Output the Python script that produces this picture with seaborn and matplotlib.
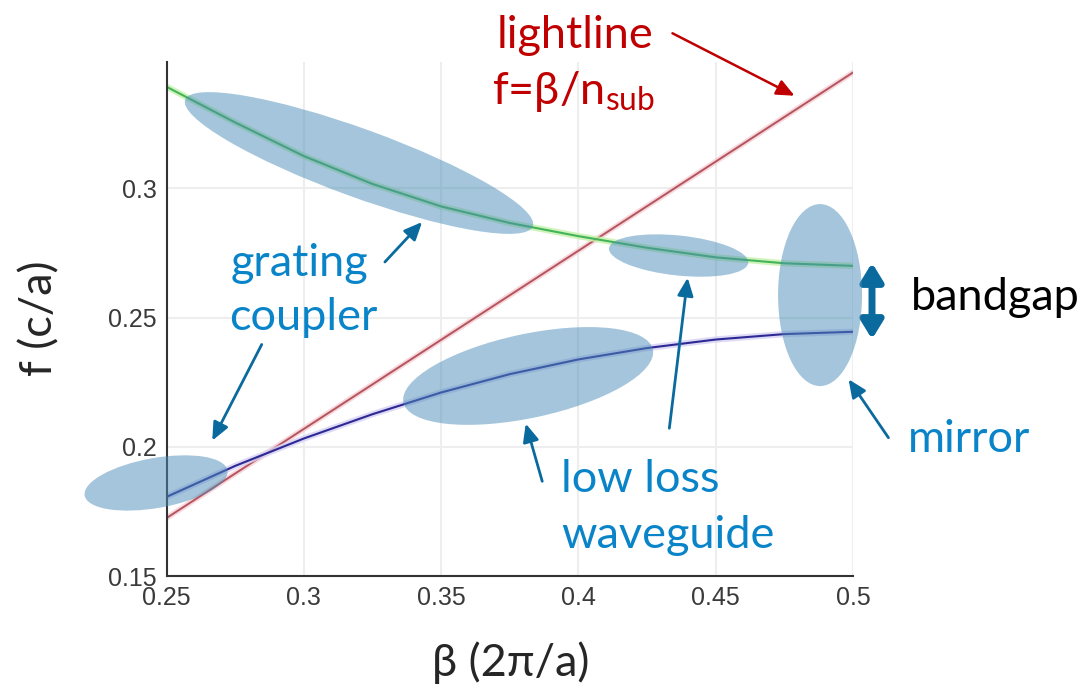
import numpy as np
import pandas as pd
import matplotlib
matplotlib.use("Agg")
import matplotlib.pyplot as plt
import matplotlib.transforms as mtransforms
from matplotlib.patches import Ellipse
import seaborn as sns

# dispersion data
beta = [0.25, 0.275, 0.30, 0.325, 0.35, 0.375, 0.40, 0.425, 0.45, 0.475, 0.50]
f_upper = [0.3393, 0.3255, 0.3125, 0.3017, 0.2930, 0.2866, 0.2815, 0.2770, 0.2733, 0.2710, 0.2700]
f_lower = [0.1806, 0.1926, 0.2032, 0.2126, 0.2210, 0.2281, 0.2338, 0.2382, 0.2415, 0.2436, 0.2445]
n_sub = 1.45
light_beta = [0.25, 0.50]

xticks = [0.25, 0.3, 0.35, 0.4, 0.45, 0.5]
xticklabels = ["0.25", "0.3", "0.35", "0.4", "0.45", "0.5"]
yticks = [0.15, 0.2, 0.25, 0.3]
yticklabels = ["0.15", "0.2", "0.25", "0.3"]

# highlighted regions: (beta, f) centre, width/height in px, angle
regions = [
    ((0.3201, 0.3098), 370, 68, -20),
    ((0.2462, 0.1860), 145, 50, 10),
    ((0.3817, 0.2274), 255, 84, 12),
    ((0.4365, 0.2740), 140, 40, -6),
    ((0.4880, 0.2587), 84, 182, 0),
]

df = pd.DataFrame({"beta": beta * 2,
                   "f": f_upper + f_lower,
                   "band": ["upper"] * len(beta) + ["lower"] * len(beta)})
light = pd.DataFrame({"beta": light_beta, "f": [b / n_sub for b in light_beta]})

sns.set_theme(style="white")
plt.rcParams["font.family"] = ["Lato", "DejaVu Sans"]
plt.rcParams["mathtext.fontset"] = "custom"
plt.rcParams["mathtext.rm"] = "Lato"
plt.rcParams["mathtext.it"] = "Lato:italic"

W, H = 1084, 689
fig = plt.figure(figsize=(W / 100, H / 100), dpi=100)
ax = fig.add_axes([166.5 / W, 1 - 576 / H, (853 - 166.5) / W, (576 - 61.7) / H])


def fp(x, y):
    return (x / W, 1 - y / H)


# glow + core for each curve
sns.lineplot(data=light, x="beta", y="f", ax=ax, color="#f4c8d0", lw=4, alpha=0.7)
sns.lineplot(data=light, x="beta", y="f", ax=ax, color="#b5545c", lw=1.4)
glow = {"upper": "#c4f2a8", "lower": "#d6d0f4"}
core = {"upper": "#44b35a", "lower": "#2c2a92"}
sns.lineplot(data=df, x="beta", y="f", hue="band", palette=glow, ax=ax, lw=4.5,
             alpha=0.8, legend=False)
sns.lineplot(data=df, x="beta", y="f", hue="band", palette=core, ax=ax, lw=1.5,
             legend=False)

for (cx, cy), w, h, ang in regions:
    tr = fig.dpi_scale_trans + mtransforms.ScaledTranslation(cx, cy, ax.transData)
    ax.add_patch(Ellipse((0, 0), w / 100, h / 100, angle=ang, transform=tr,
                         facecolor="#4a8db8", alpha=0.5, edgecolor="none",
                         zorder=5, clip_on=False))

ax.set_xlim(0.25, 0.5)
ax.set_ylim(0.15, 0.349)
ax.set_xticks(xticks)
ax.set_xticklabels(xticklabels)
ax.set_yticks(yticks)
ax.set_yticklabels(yticklabels)
ax.tick_params(axis="both", direction="out", length=5, width=1.2, color="#333333",
               labelsize=18, labelcolor="#3a3a3a", pad=2)
for lab in ax.get_xticklabels() + ax.get_yticklabels():
    lab.set_family(["Liberation Sans", "DejaVu Sans"])
ax.grid(True, color="#eeeeee", lw=1.5)
ax.set_axisbelow(True)
sns.despine(ax=ax)
for s in ["left", "bottom"]:
    ax.spines[s].set_color("#333333")
    ax.spines[s].set_linewidth(1.5)
ax.set_xlabel("")
ax.set_ylabel("")

fs = 32.5
# axis titles
fig.text(*fp(40, 318), "f (c/a)", rotation=90, fontsize=fs, ha="center", va="center")
fig.text(*fp(511, 663), "β (2π/a)", fontsize=fs, ha="center", va="center")

blue_txt = "#0a84c8"
arrow_c = "#0a6a9e"
red = "#c00000"
head = "-|>,head_length=0.9,head_width=0.4"

# lightline label
fig.text(*fp(575, 36), "lightline", color=red, fontsize=fs, ha="center", va="center")
fig.text(*fp(573, 92), r"f=β/n$_{\mathrm{sub}}$", color=red, fontsize=fs,
         ha="center", va="center")
ax.annotate("", xy=fp(797, 97), xytext=fp(670, 32), xycoords="figure fraction",
            arrowprops=dict(arrowstyle=head, color=red, lw=1.8))

# grating coupler
fig.text(*fp(299, 263), "grating", color=blue_txt, fontsize=fs, ha="center", va="center")
fig.text(*fp(303, 318), "coupler", color=blue_txt, fontsize=fs, ha="center", va="center")
ax.annotate("", xy=fp(424, 220), xytext=fp(383, 264), xycoords="figure fraction",
            arrowprops=dict(arrowstyle=head, color=arrow_c, lw=2))
ax.annotate("", xy=fp(211, 443), xytext=fp(263, 342), xycoords="figure fraction",
            arrowprops=dict(arrowstyle=head, color=arrow_c, lw=2))

# low loss waveguide
fig.text(*fp(561, 480), "low loss", color=blue_txt, fontsize=fs, ha="left", va="center")
fig.text(*fp(561, 535), "waveguide", color=blue_txt, fontsize=fs, ha="left", va="center")
ax.annotate("", xy=fp(525, 421), xytext=fp(543, 484), xycoords="figure fraction",
            arrowprops=dict(arrowstyle=head, color=arrow_c, lw=2))
ax.annotate("", xy=fp(688, 275), xytext=fp(669, 431), xycoords="figure fraction",
            arrowprops=dict(arrowstyle=head, color=arrow_c, lw=2))

# mirror
fig.text(*fp(969, 440), "mirror", color=blue_txt, fontsize=fs, ha="center", va="center")
ax.annotate("", xy=fp(847, 377), xytext=fp(890, 440), xycoords="figure fraction",
            arrowprops=dict(arrowstyle=head, color=arrow_c, lw=2))

# bandgap
ax.annotate("", xy=fp(872, 260), xytext=fp(872, 342), xycoords="figure fraction",
            arrowprops=dict(arrowstyle="<|-|>,head_length=0.9,head_width=0.55",
                            color=arrow_c, lw=5))
fig.text(*fp(995, 297), "bandgap", color="black", fontsize=fs, ha="center", va="center")

fig.savefig("out.png", dpi=100)
